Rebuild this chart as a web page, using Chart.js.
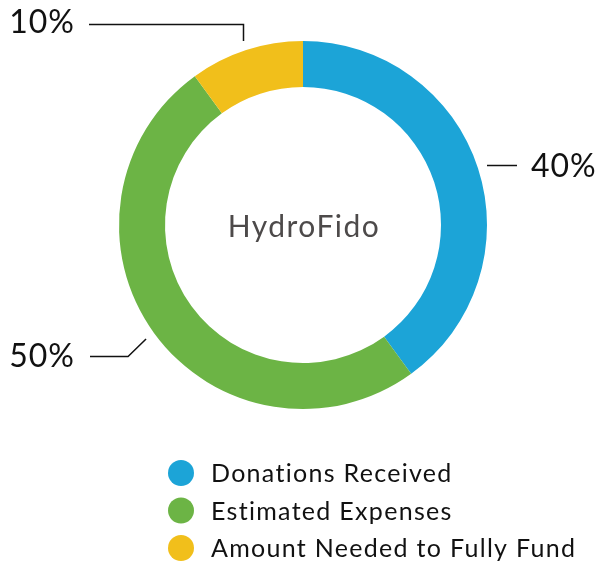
<!DOCTYPE html>
<html>
<head>
<meta charset="utf-8">
<script src="https://cdn.jsdelivr.net/npm/chart.js@4/dist/chart.umd.min.js"></script>
<style>
  html, body { margin: 0; padding: 0; background: #fff; }
  #wrap { width: 600px; height: 564px; }
</style>
</head>
<body>
<div id="wrap"><canvas id="donut" width="600" height="564"></canvas></div>
<script>
// DATA
const labels = ['Donations Received', 'Estimated Expenses', 'Amount Needed to Fully Fund'];
const shares = [40, 50, 10];
const colors = ['#1ca4d7', '#6cb445', '#f1bf1b'];
const centerTitle = 'HydroFido';

const FONT = 'Lato, "Open Sans", sans-serif';

// draws the % labels with their leader lines, the centre text and the legend
const annotate = {
  id: 'annotate',
  afterDraw(chart) {
    const ctx = chart.ctx;
    const arcs = chart.getDatasetMeta(0).data;
    const total = shares.reduce((a, b) => a + b, 0);

    ctx.save();
    ctx.strokeStyle = '#111';
    ctx.lineWidth = 1.5;
    ctx.fillStyle = '#111';
    ctx.font = '32px ' + FONT;
    ctx.letterSpacing = '1px';
    ctx.textBaseline = 'middle';

    arcs.forEach((arc, i) => {
      const { x, y, startAngle, endAngle, outerRadius } = arc.getProps(['x', 'y', 'startAngle', 'endAngle', 'outerRadius'], true);
      const mid = (startAngle + endAngle) / 2;
      const txt = Math.round(shares[i] / total * 100) + '%';
      const px = x + Math.cos(mid) * outerRadius;
      const py = y + Math.sin(mid) * outerRadius;

      ctx.beginPath();
      if (i === 0) {
        const ly = Math.round(py - 3) + 0.5;
        ctx.moveTo(x + outerRadius, ly);
        ctx.lineTo(x + outerRadius + 30, ly);
        ctx.stroke();
        ctx.textAlign = 'left';
        ctx.fillText(txt, x + outerRadius + 44, ly + 1);
      } else if (i === 1) {
        const ax = x + Math.cos(mid) * (outerRadius + 10);
        const ay = y + Math.sin(mid) * (outerRadius + 10);
        const ly = Math.round(ay + 17) + 0.5;
        ctx.moveTo(ax, ay);
        ctx.lineTo(ax - 18, ly);
        ctx.lineTo(90, ly);
        ctx.stroke();
        ctx.textAlign = 'right';
        ctx.fillText(txt, 75, ly);
      } else {
        const ax = Math.round(px - 3) + 0.5;
        ctx.moveTo(ax, y - outerRadius);
        ctx.lineTo(ax, 24.5);
        ctx.lineTo(89, 24.5);
        ctx.stroke();
        ctx.textAlign = 'right';
        ctx.fillText(txt, 75, 23);
      }
    });

    // centre title
    const c = arcs[0];
    ctx.fillStyle = '#4d4a4a';
    ctx.font = '30px ' + FONT;
    ctx.letterSpacing = '1.5px';
    ctx.textAlign = 'center';
    ctx.fillText(centerTitle, c.x + 1, c.y + 2);

    // legend
    ctx.font = '25px ' + FONT;
    ctx.letterSpacing = '1.3px';
    ctx.textAlign = 'left';
    labels.forEach((lab, i) => {
      const ly = 473 + i * 37.5;
      ctx.fillStyle = colors[i];
      ctx.beginPath();
      ctx.arc(181, ly, 13, 0, Math.PI * 2);
      ctx.fill();
      ctx.fillStyle = '#111';
      ctx.fillText(lab, 211, ly + 1);
    });
    ctx.restore();
  }
};

new Chart(document.getElementById('donut'), {
  type: 'doughnut',
  data: {
    labels: labels,
    datasets: [{
      data: shares,
      backgroundColor: colors,
      borderWidth: 0
    }]
  },
  options: {
    responsive: false,
    animation: false,
    cutout: '75%',
    layout: {
      padding: { left: 119, right: 113, top: 41, bottom: 155 }
    },
    plugins: {
      legend: { display: false },
      tooltip: { enabled: false }
    }
  },
  plugins: [annotate]
});
</script>
</body>
</html>
